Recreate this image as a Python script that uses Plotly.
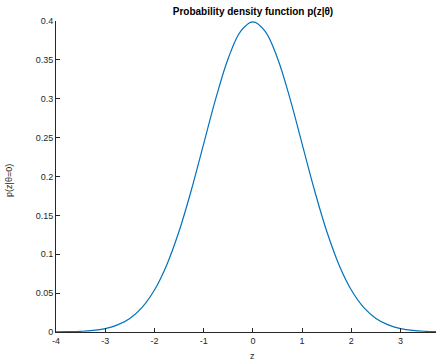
import plotly.graph_objects as go

z_vals = [-4, -3.75, -3.5, -3.25, -3, -2.75, -2.5, -2.25, -2, -1.75, -1.5, -1.25, -1,
          -0.75, -0.5, -0.25, 0, 0.25, 0.5, 0.75, 1, 1.25, 1.5, 1.75, 2, 2.25, 2.5,
          2.75, 3, 3.25, 3.5, 3.75, 4]
p_vals = [0.0001, 0.0004, 0.0009, 0.002, 0.0044, 0.0091, 0.0175, 0.0317, 0.054, 0.0863,
          0.1295, 0.1826, 0.242, 0.3011, 0.3521, 0.3867, 0.3989, 0.3867, 0.3521, 0.3011,
          0.242, 0.1826, 0.1295, 0.0863, 0.054, 0.0317, 0.0175, 0.0091, 0.0044, 0.002,
          0.0009, 0.0004, 0.0001]
x_ticks = [-4, -3, -2, -1, 0, 1, 2, 3]
x_tick_text = ["-4", "-3", "-2", "-1", "0", "1", "2", "3"]
y_ticks = [0, 0.05, 0.1, 0.15, 0.2, 0.25, 0.3, 0.35, 0.4]
y_tick_text = ["0", "0.05", "0.1", "0.15", "0.2", "0.25", "0.3", "0.35", "0.4"]

axis_col = "#262626"
fig = go.Figure()
fig.add_trace(go.Scatter(x=z_vals, y=p_vals, mode="lines",
                         line=dict(color="#0072BD", width=1.2, shape="spline", smoothing=1.0),
                         hoverinfo="skip", showlegend=False))

fig.update_layout(
    width=436, height=361,
    margin=dict(l=56, r=0, t=21, b=29),
    paper_bgcolor="white", plot_bgcolor="white",
    font=dict(family="Liberation Sans, Arial, sans-serif", size=9, color=axis_col),
    title=dict(text="<b>Probability density function p(z|θ)</b>", x=0.5184, xanchor="center",
               xref="paper", y=0.968, yanchor="middle", font=dict(size=10, color="black")),
    xaxis=dict(range=[-4, 3.72], tickvals=x_ticks, ticktext=x_tick_text, ticks="inside",
               ticklen=4, tickcolor=axis_col, showline=True, linecolor=axis_col, linewidth=1,
               showgrid=False, zeroline=False, tickfont=dict(size=9)),
    yaxis=dict(range=[0, 0.4], tickvals=y_ticks, ticktext=y_tick_text, ticks="inside",
               ticklen=4, tickcolor=axis_col, showline=True, linecolor=axis_col, linewidth=1,
               showgrid=False, zeroline=False, tickfont=dict(size=9)),
    annotations=[
        dict(text="z", xref="x", x=0, yref="paper", y=-0.077, yanchor="middle",
             showarrow=False, font=dict(size=9, color=axis_col)),
        dict(text="p(z|θ=0)", xref="paper", x=-0.1237, xanchor="center", yref="paper",
             y=0.489, yanchor="middle", textangle=-90, showarrow=False,
             font=dict(size=9, color=axis_col)),
    ],
)
fig.write_html("out.html")
